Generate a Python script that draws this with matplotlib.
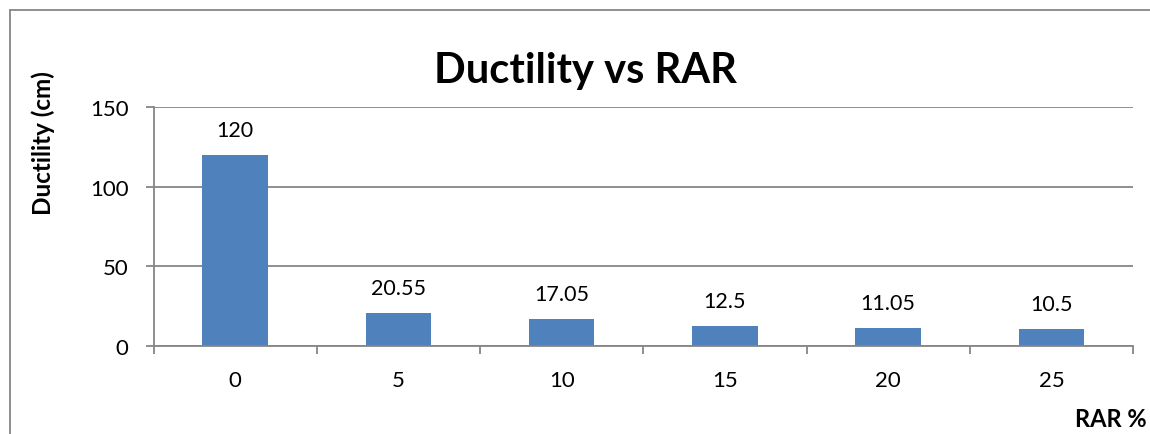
import matplotlib
matplotlib.use("Agg")
import matplotlib.pyplot as plt
from matplotlib.patches import Rectangle

categories = ["0", "5", "10", "15", "20", "25"]
values = [120, 20.55, 17.05, 12.5, 11.05, 10.5]
value_labels = ["120", "20.55", "17.05", "12.5", "11.05", "10.5"]
yticks = [0, 50, 100, 150]

W, H = 1150, 435
plt.rcParams['font.family'] = ['Lato', 'DejaVu Sans']
fig = plt.figure(figsize=(W / 100, H / 100), dpi=100)
ax = fig.add_axes([153.5 / W, 1 - 347 / H, (1133 - 153.5) / W, (347 - 108) / H])

grey = "#868686"
x = list(range(len(categories)))
ax.bar(x, values, width=0.4, color="#4F81BD", zorder=3)
ax.set_xlim(-0.5, len(categories) - 0.5)
ax.set_ylim(0, 150)
ax.set_yticks(yticks)
ax.set_yticklabels([str(t) for t in yticks])
ax.yaxis.grid(True, color=grey, linewidth=1.3, zorder=0)
ax.set_xticks(x)
ax.set_xticklabels(categories)
ax.set_xticks([i - 0.5 for i in range(len(categories) + 1)], minor=True)
ax.tick_params(axis='x', which='major', length=0, pad=17, labelsize=16)
ax.tick_params(axis='x', which='minor', length=6, width=1.3, color=grey, direction='out')
ax.tick_params(axis='y', which='major', length=6, width=1.3, color=grey, pad=12, labelsize=16)
for s in ['top', 'right']:
    ax.spines[s].set_visible(False)
for s in ['left', 'bottom']:
    ax.spines[s].set_color(grey)
    ax.spines[s].set_linewidth(1.3)
    ax.spines[s].set_zorder(4)

for xi, v, lab in zip(x, values, value_labels):
    ax.annotate(lab, (xi, v), xytext=(0, 19), textcoords='offset pixels',
                ha='center', va='baseline', fontsize=15.5)

fig.text(585 / W, 1 - 83 / H, "Ductility vs RAR", ha='center', va='baseline',
         fontsize=30, fontweight='bold')
fig.text(43 / W, 1 - 143 / H, "Ductility (cm)", rotation=90, ha='center', va='center',
         fontsize=17.5, fontweight='bold')
fig.text(1147 / W, 1 - 427 / H, "RAR %", ha='right', va='baseline',
         fontsize=17, fontweight='bold')

fig.patches.append(Rectangle((10 / W, -0.1), 2, 1 - 11 / H + 0.1, transform=fig.transFigure,
                             fill=False, edgecolor=grey, linewidth=1.3))

fig.savefig("out.png", dpi=100)
